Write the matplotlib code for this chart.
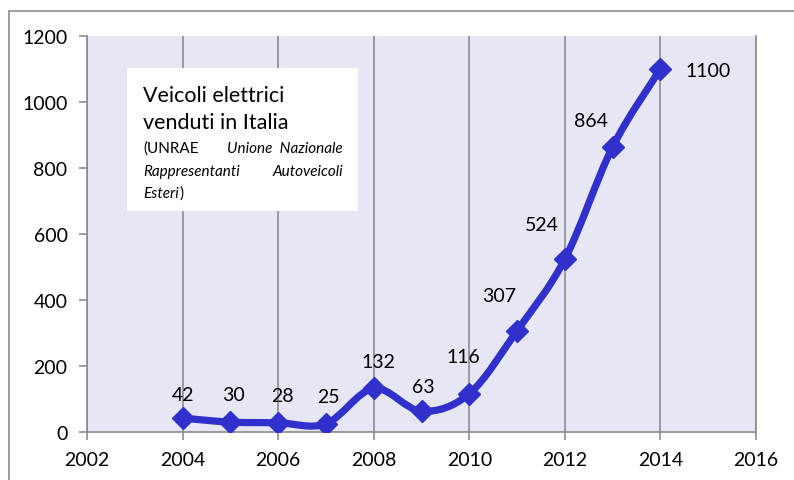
import numpy as np
import matplotlib
matplotlib.use("Agg")
import matplotlib.pyplot as plt
from matplotlib.path import Path
from matplotlib.patches import PathPatch, Rectangle

plt.rcParams['font.family'] = ['Lato', 'DejaVu Sans']

# data
years = [2004, 2005, 2006, 2007, 2008, 2009, 2010, 2011, 2012, 2013, 2014]
sold = [42, 30, 28, 25, 132, 63, 116, 307, 524, 864, 1100]
# label offsets in pixels (dx, dy, ha)
label_pos = [(0, 24, 'center'), (3, 28, 'center'), (4, 27, 'center'), (3, 27, 'center'),
             (5, 27, 'center'), (2, 25, 'center'), (-6, 37, 'center'), (-18, 35, 'center'),
             (-23, 35, 'center'), (-22, 26, 'center'), (25, -2, 'left')]

line_col = '#3030CC'

fig = plt.figure(figsize=(7.94, 4.81), dpi=100)
ax = fig.add_axes([87 / 794, 1 - 433 / 481, (756 - 87) / 794, (433 - 37) / 481])
ax.set_facecolor('#E6E6F4')
ax.set_xlim(2002, 2016)
ax.set_ylim(0, 1200)
ax.set_xticks(range(2002, 2017, 2))
ax.set_yticks(range(0, 1201, 200))
ax.grid(axis='x', color='#8C8C8C', linewidth=1.2)
ax.set_axisbelow(True)
ax.spines['top'].set_visible(False)
for s in ['left', 'bottom', 'right']:
    ax.spines[s].set_color('#8C8C8C')
    ax.spines[s].set_linewidth(1.2)
ax.tick_params(axis='both', colors='#8C8C8C', labelcolor='black', labelsize=14,
               length=6, width=1.2)
ax.tick_params(axis='x', pad=8)
ax.tick_params(axis='y', pad=8)

# smoothed line (Catmull-Rom style bezier, like Excel's smooth lines)
pts = np.column_stack([years, sold]).astype(float)
verts = [pts[0]]
codes = [Path.MOVETO]
n = len(pts)
for i in range(n - 1):
    p0 = pts[i - 1] if i > 0 else pts[i]
    p1 = pts[i]
    p2 = pts[i + 1]
    p3 = pts[i + 2] if i + 2 < n else pts[i + 1]
    c1 = p1 + (p2 - p0) / 6
    c2 = p2 - (p3 - p1) / 6
    verts += [c1, c2, p2]
    codes += [Path.CURVE4] * 3
ax.add_patch(PathPatch(Path(verts, codes), facecolor='none', edgecolor=line_col,
                       linewidth=5.2, capstyle='round', joinstyle='round', zorder=3))
ax.plot(years, sold, linestyle='none', marker='D', markersize=11,
        color=line_col, zorder=4)

for x, y, (dx, dy, ha) in zip(years, sold, label_pos):
    ax.annotate(str(y), (x, y), xytext=(dx, dy), textcoords='offset pixels',
                ha=ha, va='center', fontsize=14, color='black', zorder=5)

# text box
fig.add_artist(Rectangle((127 / 794, 1 - 212 / 481), (358 - 127) / 794, (212 - 69) / 481,
                         transform=fig.transFigure, facecolor='white', edgecolor='none', zorder=6))
fig.text(143 / 794, 1 - 102 / 481, 'Veicoli elettrici', fontsize=15.5, va='baseline', zorder=7)
fig.text(143 / 794, 1 - 129 / 481, 'venduti in Italia', fontsize=15.5, va='baseline', zorder=7)
fig.text(143 / 794, 1 - 153 / 481, '(UNRAE', fontsize=11, va='baseline', zorder=7)
fig.text(343 / 794, 1 - 153 / 481, 'Unione  Nazionale', fontsize=11, va='baseline',
         ha='right', style='italic', zorder=7)
fig.text(143 / 794, 1 - 176 / 481, 'Rappresentanti', fontsize=11, va='baseline',
         style='italic', zorder=7)
fig.text(343 / 794, 1 - 176 / 481, 'Autoveicoli', fontsize=11, va='baseline',
         ha='right', style='italic', zorder=7)
est = fig.text(143 / 794, 1 - 198 / 481, 'Esteri', fontsize=11, va='baseline',
               style='italic', zorder=7)
fig.add_artist(plt.Annotation(')', xy=(1, 0), xycoords=est, xytext=(1, 0),
                              textcoords='offset pixels', fontsize=11, va='bottom', zorder=7))

# chart frame (partially visible)
fig.add_artist(Rectangle((9 / 794, -0.1), 1.2, 1.1 - 12 / 481, transform=fig.transFigure,
                         facecolor='none', edgecolor='#8C8C8C', linewidth=1.2))

fig.savefig('out.png', dpi=100)
